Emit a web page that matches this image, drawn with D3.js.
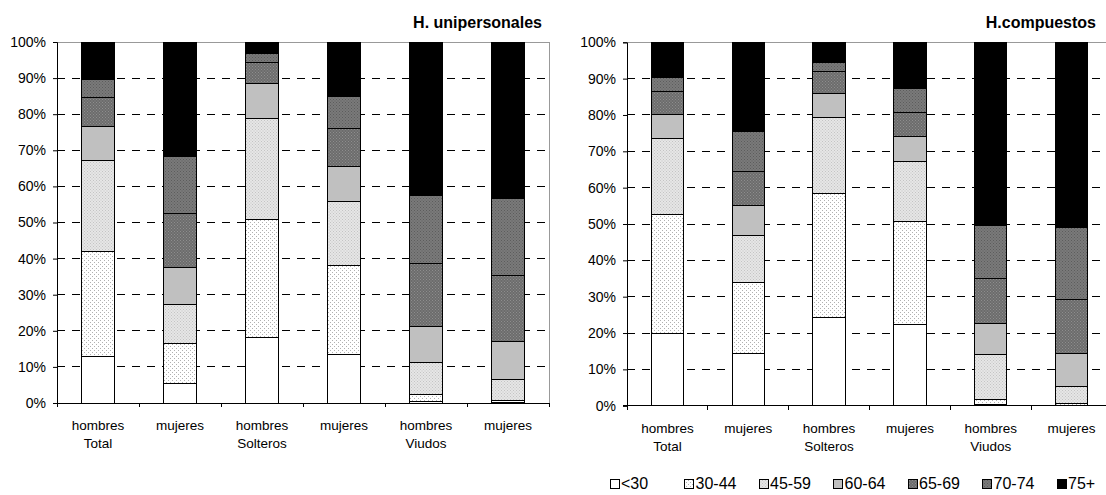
<!DOCTYPE html>
<html><head><meta charset="utf-8">
<script src="https://cdn.jsdelivr.net/npm/d3@7"></script>
<style>
html,body{margin:0;padding:0;background:#fff;}
svg{display:block;font-family:Arial,"Liberation Sans",sans-serif;}
</style></head>
<body><svg id="c" width="1106" height="495"></svg>
<script>
const categories = ["hombres","mujeres","hombres","mujeres","hombres","mujeres"];
const groupLabels = ["Total","","Solteros","","Viudos",""];
const ageGroups = ["<30","30-44","45-59","60-64","65-69","70-74","75+"];
const yTicks = [0,10,20,30,40,50,60,70,80,90,100];

// H. unipersonales (percent per age group, bottom to top)
const uniHT = [12.8,29.2,25.2,9.3,8.1,5.1,10.3];
const uniMT = [5.5,10.9,10.9,10.2,15.0,15.9,31.6];
const uniHS = [18.1,32.6,28.2,9.7,5.7,2.4,3.3];
const uniMS = [13.5,24.7,17.7,9.7,10.5,8.7,15.2];
const uniHV = [0.4,1.9,8.9,10.1,17.4,18.7,42.6];
const uniMV = [0.2,0.4,5.8,10.5,18.4,21.3,43.4];
// H.compuestos
const comHT = [19.9,32.7,20.8,6.7,6.3,4.0,9.6];
const comMT = [14.5,19.3,13.1,8.3,9.2,11.0,24.6];
const comHS = [24.4,34.1,20.9,6.4,6.2,2.5,5.5];
const comMS = [22.3,28.3,16.7,6.8,6.7,6.6,12.6];
const comHV = [0.2,1.5,12.3,8.6,12.4,14.7,50.3];
const comMV = [0.1,0.5,4.6,9.2,14.9,19.7,51.0];

const svg = d3.select("#c");
const defs = svg.append("defs");
function dotPattern(id, bg, dot, size, r){
  const p = defs.append("pattern").attr("id",id).attr("patternUnits","userSpaceOnUse")
    .attr("width",size).attr("height",size);
  p.append("rect").attr("width",size).attr("height",size).attr("fill",bg);
  p.append("rect").attr("x",0).attr("y",0).attr("width",r).attr("height",r).attr("fill",dot);
  p.append("rect").attr("x",size/2).attr("y",size/2).attr("width",r).attr("height",r).attr("fill",dot);
}
dotPattern("p3044","#ffffff","#b0b0b0",4,1);
dotPattern("p4559","#e6e6e6","#c4c4c4",3,1);
dotPattern("p6569","#6c6c6c","#8e8e8e",3,1);
dotPattern("p7074","#7a7a7a","#5c5c5c",3,1);
const fills = ["#ffffff","url(#p3044)","url(#p4559)","#c0c0c0","url(#p6569)","url(#p7074)","#000000"];

function drawChart(cfg){
  const rows = cfg.data.map((vals,i)=>{
    const o = {i:i};
    ageGroups.forEach((a,j)=>o[a]=vals[j]);
    return o;
  });
  const x = d3.scaleBand().domain(d3.range(categories.length)).range([cfg.x0,cfg.x1])
    .paddingInner(0.6).paddingOuter(0.3);
  const y = d3.scaleLinear().domain([0,100]).range([cfg.y0,cfg.y1]);
  const g = svg.append("g");
  // gridlines
  g.selectAll(".grid").data(yTicks.filter(t=>t>0&&t<100)).enter().append("line")
    .attr("x1",cfg.x0).attr("x2",cfg.x1).attr("y1",d=>y(d)).attr("y2",d=>y(d))
    .attr("stroke","#000").attr("stroke-width",1).attr("stroke-dasharray","8,7")
    .attr("shape-rendering","crispEdges");
  // top & right border
  g.append("line").attr("x1",cfg.x0).attr("x2",cfg.x1).attr("y1",y(100)).attr("y2",y(100))
    .attr("stroke","#999").attr("shape-rendering","crispEdges");
  g.append("line").attr("x1",cfg.x1).attr("x2",cfg.x1).attr("y1",y(100)).attr("y2",y(0))
    .attr("stroke","#999").attr("shape-rendering","crispEdges");
  // bars
  const stack = d3.stack().keys(ageGroups)(rows);
  stack.forEach((layer,k)=>{
    g.selectAll(null).data(layer).enter().append("rect")
      .attr("x",(d,i)=>x(i)).attr("width",x.bandwidth())
      .attr("y",d=>y(d[1])).attr("height",d=>Math.max(0,y(d[0])-y(d[1])))
      .attr("fill",fills[k]).attr("stroke","#000").attr("stroke-width",1)
      .attr("shape-rendering","crispEdges");
  });
  // y axis
  const ya = d3.axisLeft(y).tickValues(yTicks).tickFormat(d=>d+"%").tickSize(4).tickPadding(7);
  const yg = g.append("g").attr("transform",`translate(${cfg.x0},0)`).call(ya);
  yg.select(".domain").attr("stroke","#000");
  yg.selectAll("text").attr("font-size","14px").attr("fill","#000").attr("font-family","Arial, 'Liberation Sans', sans-serif");
  // x axis line + ticks at boundaries
  const step = x.step();
  const bounds = d3.range(categories.length+1).map(i=>cfg.x0+i*step);
  g.append("line").attr("x1",cfg.x0-4).attr("x2",cfg.x1).attr("y1",y(0)).attr("y2",y(0))
    .attr("stroke","#000").attr("shape-rendering","crispEdges");
  g.selectAll(null).data(bounds).enter().append("line")
    .attr("x1",d=>d).attr("x2",d=>d).attr("y1",y(0)).attr("y2",y(0)+4)
    .attr("stroke","#000").attr("shape-rendering","crispEdges");
  // x labels
  g.selectAll(null).data(categories).enter().append("text")
    .attr("x",(d,i)=>x(i)+x.bandwidth()/2).attr("y",y(0)+27)
    .attr("text-anchor","middle").attr("font-size","13.5px").text(d=>d);
  g.selectAll(null).data(groupLabels).enter().append("text")
    .attr("x",(d,i)=>x(i)+x.bandwidth()/2).attr("y",y(0)+45)
    .attr("text-anchor","middle").attr("font-size","13.5px").text(d=>d);
  // title
  g.append("text").attr("x",cfg.titleX).attr("y",28).attr("text-anchor","end")
    .attr("font-size","16px").attr("font-weight","bold").text(cfg.title);
}

drawChart({data:[uniHT,uniMT,uniHS,uniMS,uniHV,uniMV],x0:57,x1:549,y0:403,y1:42,title:"H. unipersonales",titleX:542});
drawChart({data:[comHT,comMT,comHS,comMS,comHV,comMV],x0:627,x1:1112,y0:405.7,y1:42.3,title:"H.compuestos",titleX:1096});

// legend
const lg = svg.append("g");
const lx = d3.scaleLinear().domain([0,ageGroups.length-1]).range([610,1057]);
ageGroups.forEach((a,k)=>{
  lg.append("rect").attr("x",lx(k)).attr("y",479).attr("width",9).attr("height",9)
    .attr("fill",fills[k]).attr("stroke","#000").attr("stroke-width",1).attr("shape-rendering","crispEdges");
  lg.append("text").attr("x",lx(k)+11).attr("y",489).attr("font-size","16px").text(a);
});
</script></body></html>
